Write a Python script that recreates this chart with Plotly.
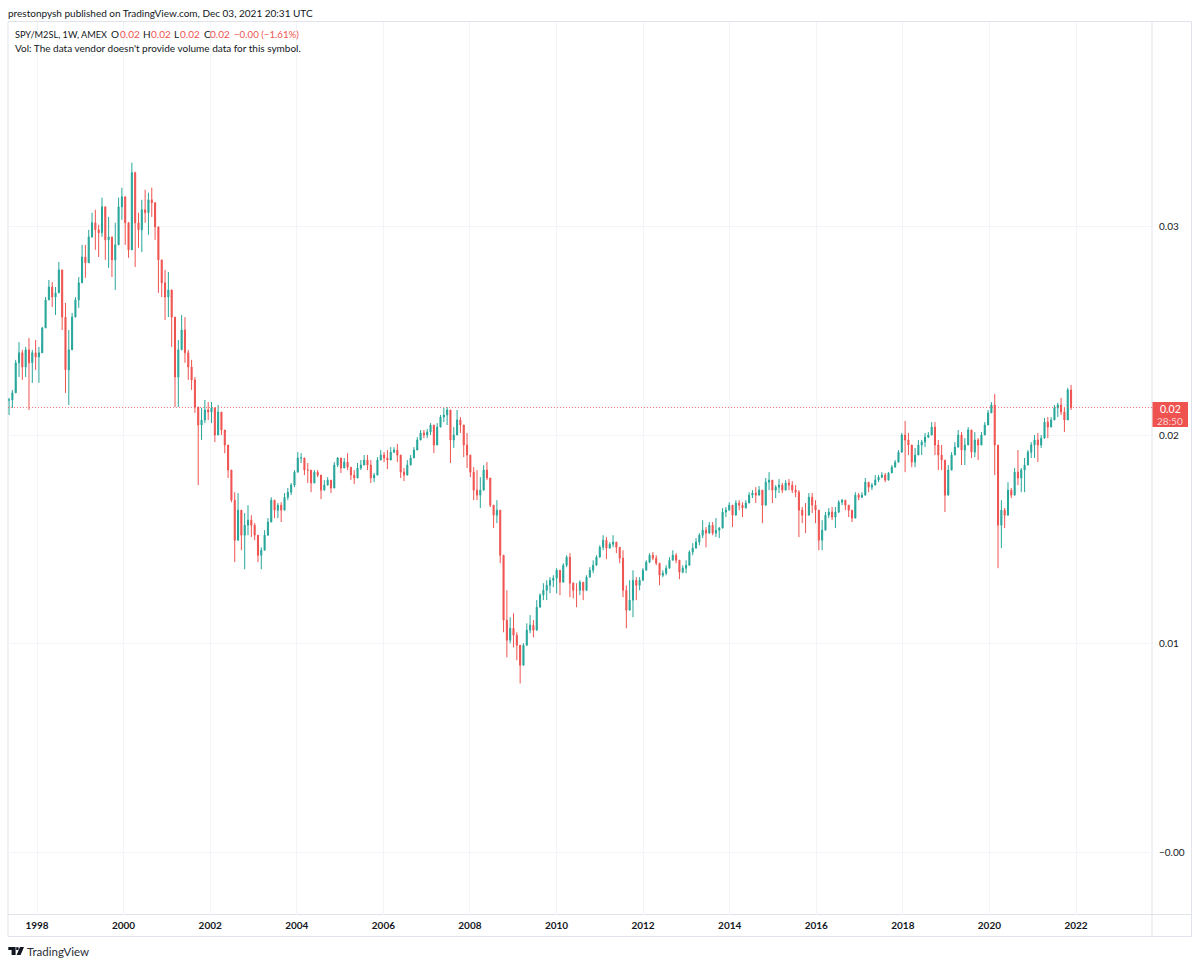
import pandas as pd
import plotly.graph_objects as go

# SPY/M2SL ratio, sampled every four weeks
first_bar = "1997-05-10"

high = [
 .02178,.02216,.02360,.02445,.02408,.02422,.02465,.02408,.02455,.02422,
 .02518,.02661,.02743,.02733,.02709,.02829,.02791,.02633,.02503,.02585,
 .02661,.02757,.02911,.02911,.02983,.03065,.03079,.03007,.03137,.03045,
 .03045,.02949,.03017,.03137,.03185,.03127,.02983,.03305,.03261,.03065,
 .03127,.03175,.03161,.03185,.03031,.02959,.02839,.02791,.02781,.02661,
 .02422,.02455,.02575,.02565,.02408,.02360,.02278,.02120,.02130,.02168,
 .02158,.02158,.02096,.02144,.02072,.02014,.01942,.01794,.01726,.01722,
 .01578,.01626,.01664,.01616,.01578,.01506,.01462,.01544,.01602,.01702,
 .01678,.01674,.01678,.01722,.01746,.01770,.01832,.01918,.01913,.01880,
 .01866,.01798,.01832,.01832,.01798,.01784,.01798,.01784,.01870,.01894,
 .01866,.01890,.01913,.01846,.01832,.01866,.01880,.01904,.01904,.01880,
 .01818,.01894,.01928,.01918,.01928,.01942,.01942,.01957,.01880,.01842,
 .01880,.01904,.01942,.01990,.02024,.02024,.02029,.02057,.02010,.02057,
 .02096,.02130,.02134,.02120,.02038,.02120,.02086,.02033,.02010,.01904,
 .01846,.01832,.01798,.01856,.01870,.01774,.01664,.01688,.01640,.01352,
 .01256,.01127,.01146,.01055,.00921,.01002,.01098,.01137,.01113,.01209,
 .01242,.01290,.01304,.01319,.01328,.01362,.01319,.01386,.01424,.01434,
 .01295,.01290,.01304,.01295,.01328,.01367,.01400,.01424,.01472,.01520,
 .01511,.01487,.01520,.01487,.01458,.01448,.01280,.01304,.01352,.01319,
 .01319,.01362,.01400,.01434,.01439,.01424,.01352,.01352,.01376,.01415,
 .01448,.01434,.01386,.01376,.01400,.01448,.01482,.01506,.01530,.01592,
 .01559,.01583,.01583,.01602,.01559,.01650,.01655,.01678,.01655,.01688,
 .01688,.01678,.01688,.01726,.01736,.01750,.01755,.01722,.01794,.01822,
 .01774,.01760,.01789,.01770,.01784,.01789,.01779,.01760,.01736,.01655,
 .01674,.01722,.01722,.01688,.01578,.01592,.01631,.01650,.01655,.01655,
 .01688,.01693,.01688,.01655,.01640,.01726,.01722,.01726,.01794,.01774,
 .01770,.01808,.01808,.01822,.01818,.01822,.01856,.01880,.01928,.02010,
 .02067,.02010,.01928,.01938,.01976,.01976,.02010,.02014,.02062,.02062,
 .01976,.01952,.01880,.01856,.01918,.01966,.02024,.02014,.01985,.02038,
 .01985,.02014,.01985,.02014,.02062,.02120,.02158,.02197,.01952,.01688,
 .01650,.01774,.01746,.01842,.01928,.01842,.01890,.01928,.01966,.02000,
 .02010,.02000,.02082,.02086,.02086,.02144,.02154,.02178,.02130,.02226,
 .02240,
]

low = [
 .02096,.02130,.02250,.02278,.02264,.02278,.02120,.02250,.02312,.02250,
 .02441,.02537,.02647,.02613,.02575,.02695,.02503,.02202,.02144,.02441,
 .02585,.02609,.02753,.02753,.02839,.02945,.02887,.02853,.02949,.02839,
 .02801,.02757,.02695,.02997,.03031,.02911,.02849,.03045,.02805,.02897,
 .02877,.03017,.02959,.03045,.02935,.02681,.02661,.02551,.02565,.02422,
 .02134,.02134,.02408,.02346,.02264,.02216,.02106,.01760,.01976,.02057,
 .02072,.02057,.01966,.02057,.02000,.01913,.01794,.01678,.01391,.01559,
 .01448,.01357,.01520,.01511,.01496,.01391,.01357,.01448,.01530,.01602,
 .01602,.01602,.01583,.01640,.01688,.01712,.01750,.01842,.01866,.01808,
 .01770,.01726,.01770,.01798,.01693,.01736,.01760,.01722,.01818,.01846,
 .01818,.01842,.01832,.01784,.01765,.01818,.01832,.01856,.01832,.01770,
 .01774,.01842,.01880,.01870,.01837,.01894,.01913,.01870,.01794,.01779,
 .01832,.01870,.01894,.01942,.01976,.01985,.01985,.02000,.01913,.02014,
 .02057,.02062,.02048,.01866,.01938,.02010,.02010,.01894,.01842,.01798,
 .01688,.01688,.01650,.01770,.01784,.01655,.01554,.01578,.01386,.01055,
 .00935,.01002,.00983,.00921,.00810,.00935,.01002,.01050,.01031,.01113,
 .01175,.01209,.01209,.01242,.01271,.01242,.01233,.01338,.01367,.01223,
 .01218,.01175,.01233,.01209,.01290,.01319,.01338,.01386,.01434,.01448,
 .01405,.01458,.01462,.01434,.01386,.01223,.01074,.01170,.01127,.01209,
 .01256,.01314,.01352,.01386,.01400,.01376,.01280,.01319,.01328,.01376,
 .01400,.01386,.01309,.01338,.01338,.01391,.01424,.01458,.01472,.01506,
 .01462,.01544,.01520,.01511,.01506,.01592,.01607,.01640,.01559,.01640,
 .01640,.01607,.01650,.01688,.01698,.01674,.01722,.01578,.01702,.01736,
 .01674,.01698,.01722,.01722,.01736,.01736,.01722,.01702,.01511,.01578,
 .01530,.01655,.01626,.01578,.01448,.01448,.01592,.01602,.01592,.01554,
 .01626,.01664,.01640,.01607,.01583,.01664,.01688,.01698,.01746,.01726,
 .01736,.01770,.01774,.01794,.01774,.01794,.01822,.01846,.01890,.01928,
 .01822,.01904,.01846,.01846,.01913,.01904,.01942,.01985,.02010,.01904,
 .01832,.01832,.01631,.01746,.01842,.01904,.01966,.01856,.01856,.01952,
 .01890,.01894,.01880,.01985,.02024,.02082,.02110,.01808,.01362,.01458,
 .01554,.01650,.01698,.01746,.01760,.01726,.01726,.01856,.01890,.01890,
 .01870,.01938,.02000,.01985,.02038,.02082,.02086,.02096,.02014,.02130,
 .02120,
]

close = [
 .02168,.02202,.02346,.02394,.02326,.02408,.02346,.02394,.02374,.02394,
 .02513,.02647,.02709,.02661,.02681,.02791,.02565,.02312,.02408,.02565,
 .02647,.02729,.02853,.02825,.02949,.03017,.02983,.02969,.03093,.02935,
 .02949,.02839,.02911,.03093,.03141,.03017,.02887,.03257,.03017,.02983,
 .03079,.03065,.03127,.03113,.02997,.02839,.02729,.02661,.02695,.02565,
 .02278,.02408,.02503,.02394,.02326,.02264,.02134,.02048,.02072,.02120,
 .02110,.02130,.02000,.02110,.02024,.01952,.01832,.01688,.01496,.01640,
 .01520,.01568,.01592,.01568,.01520,.01424,.01448,.01520,.01583,.01688,
 .01640,.01664,.01640,.01702,.01726,.01760,.01822,.01890,.01890,.01832,
 .01832,.01770,.01822,.01808,.01736,.01760,.01784,.01746,.01856,.01890,
 .01842,.01870,.01846,.01808,.01794,.01842,.01856,.01880,.01856,.01794,
 .01808,.01880,.01904,.01890,.01880,.01918,.01928,.01904,.01822,.01808,
 .01856,.01890,.01928,.01976,.02010,.02000,.02014,.02048,.01952,.02038,
 .02086,.02096,.02120,.01976,.02000,.02072,.02048,.01952,.01904,.01822,
 .01736,.01712,.01736,.01832,.01794,.01664,.01616,.01640,.01424,.01113,
 .01017,.01074,.01041,.00993,.00897,.00993,.01065,.01089,.01065,.01175,
 .01233,.01256,.01280,.01304,.01314,.01352,.01295,.01376,.01415,.01290,
 .01256,.01256,.01295,.01256,.01319,.01352,.01376,.01415,.01462,.01496,
 .01458,.01477,.01487,.01462,.01410,.01256,.01161,.01209,.01304,.01280,
 .01304,.01352,.01391,.01424,.01410,.01386,.01328,.01338,.01362,.01400,
 .01424,.01400,.01343,.01362,.01376,.01439,.01458,.01487,.01520,.01544,
 .01530,.01568,.01530,.01544,.01554,.01631,.01640,.01664,.01616,.01674,
 .01664,.01650,.01674,.01712,.01722,.01712,.01736,.01664,.01774,.01784,
 .01736,.01750,.01760,.01736,.01770,.01760,.01736,.01726,.01640,.01616,
 .01616,.01702,.01664,.01640,.01496,.01544,.01616,.01631,.01607,.01631,
 .01678,.01688,.01664,.01640,.01602,.01712,.01702,.01712,.01774,.01750,
 .01760,.01784,.01798,.01808,.01784,.01818,.01846,.01870,.01918,.02000,
 .01976,.01952,.01870,.01904,.01952,.01966,.01990,.02000,.02038,.01952,
 .01904,.01880,.01712,.01832,.01904,.01942,.02000,.01928,.01952,.02024,
 .01918,.01976,.01952,.02000,.02048,.02106,.02144,.01952,.01568,.01640,
 .01616,.01736,.01712,.01822,.01794,.01832,.01856,.01918,.01952,.01976,
 .01952,.01985,.02062,.02038,.02072,.02130,.02144,.02110,.02072,.02216,
 .02132,
]

year_ticks = ["1998", "2000", "2002", "2004", "2006", "2008", "2010", "2012",
              "2014", "2016", "2018", "2020", "2022"]
price_ticks = [0.03, 0.02, 0.01, 0.0]
price_labels = ["0.03", "0.02", "0.01", "−0.00"]

UP = "#26a69a"
DOWN = "#ef5350"
INK = "#131722"
GRID = "#f3f4f8"
BORDER = "#e0e3eb"
FONT = "Lato"
W, H = 1200, 965


def px(x):
    return x / W


def py(y):
    return 1 - y / H


dates = pd.date_range(first_bar, periods=len(close), freq="28D")
opens = [close[0]] + close[:-1]

fig = go.Figure(go.Candlestick(
    x=dates, open=opens, high=high, low=low, close=close,
    increasing=dict(line=dict(color=UP, width=1), fillcolor=UP),
    decreasing=dict(line=dict(color=DOWN, width=1), fillcolor=DOWN),
    whiskerwidth=0, hoverinfo="skip",
))


def frame_line(x0, y0, x1, y1):
    return dict(type="line", xref="paper", yref="paper", layer="below",
                x0=px(x0), y0=py(y0), x1=px(x1), y1=py(y1),
                line=dict(color=BORDER, width=1))


def glyph(points):
    path = "M" + " L".join(f"{px(a):.5f},{py(b):.5f}" for a, b in points) + " Z"
    return dict(type="path", xref="paper", yref="paper", path=path,
                fillcolor=INK, line=dict(width=0))


shapes = [
    frame_line(8, 21.5, 1191.5, 21.5),
    frame_line(8, 21.5, 8, 936.5),
    frame_line(8, 936.5, 1191.5, 936.5),
    frame_line(1191.5, 21.5, 1191.5, 936.5),
    frame_line(1152, 21.5, 1152, 936.5),
    frame_line(8, 914.5, 1191.5, 914.5),
    # last price line
    dict(type="line", xref="paper", yref="y", x0=px(8), x1=px(1152),
         y0=close[-1], y1=close[-1], opacity=0.8,
         line=dict(color=DOWN, width=1, dash="1px,2px")),
    # last price tag
    dict(type="rect", xref="paper", yref="paper", x0=px(1152.5), x1=px(1188),
         y0=py(402), y1=py(427), fillcolor=DOWN, line=dict(width=0)),
    # TradingView mark
    glyph([(8.3, 947), (15.6, 947), (15.6, 955), (11.6, 955), (11.6, 950), (8.3, 950)]),
    glyph([(16.2, 947.2), (18.6, 947.2), (18.6, 950), (16.2, 950)]),
    glyph([(20, 947), (24, 947), (20.6, 955), (16.6, 955)]),
]


def note(text, x, y, size=10, color=INK, anchor="left"):
    return dict(text=text, xref="paper", yref="paper", x=px(x - 2), y=py(y),
                xanchor=anchor, yanchor="middle", showarrow=False,
                font=dict(family=FONT, size=size, color=color))


annotations = [
    note("prestonpysh published on TradingView.com, Dec 03, 2021 20:31 UTC", 8, 12.5),
    note("SPY/M2SL, 1W, AMEX", 15, 34.5, 9.2),
    note("O", 111, 34.5), note("0.02", 119.5, 34.5, color=DOWN),
    note("H", 143, 34.5), note("0.02", 151, 34.5, color=DOWN),
    note("L", 174, 34.5), note("0.02", 180, 34.5, color=DOWN),
    note("C", 203.5, 34.5), note("0.02", 210.5, 34.5, color=DOWN),
    note("−0.00 (−1.61%)", 234, 34.5, 9.7, color=DOWN),
    note("Vol: The data vendor doesn't provide volume data for this symbol.", 15, 48),
    note("TradingView", 27, 951.5, 11.5, color="#2a2e39"),
    note("0.02", 1172, 408.5, 10.5, color="#ffffff", anchor="center"),
    note("28:50", 1172, 420.5, 10, color="rgba(255,255,255,0.75)", anchor="center"),
]

fig.update_layout(
    width=W, height=H, margin=dict(l=0, r=0, t=0, b=0),
    paper_bgcolor="#ffffff", plot_bgcolor="#ffffff",
    showlegend=False, boxgap=0.55, hovermode=False,
    shapes=shapes, annotations=annotations,
    xaxis=dict(
        domain=[px(8), px(1152)], type="date",
        range=["1997-05-01", "2023-10-04"],
        rangeslider=dict(visible=False),
        tickvals=[f"{y}-01-01" for y in year_ticks],
        ticktext=[f"<b>{y}</b>" for y in year_ticks],
        showgrid=True, gridcolor=GRID, gridwidth=1, zeroline=False,
        ticks="", showline=False, fixedrange=True, ticklabelstandoff=3,
        tickfont=dict(family=FONT, size=10, color=INK),
    ),
    yaxis=dict(
        domain=[py(914.5), py(21.5)], side="right",
        range=[-0.00297, 0.03981],
        tickvals=price_ticks, ticktext=price_labels,
        showgrid=True, gridcolor=GRID, gridwidth=1, zeroline=False,
        ticks="", showline=False, fixedrange=True, ticklabelstandoff=6,
        tickfont=dict(family=FONT, size=10, color=INK),
    ),
)

fig.write_html("out.html", config=dict(displayModeBar=False))
